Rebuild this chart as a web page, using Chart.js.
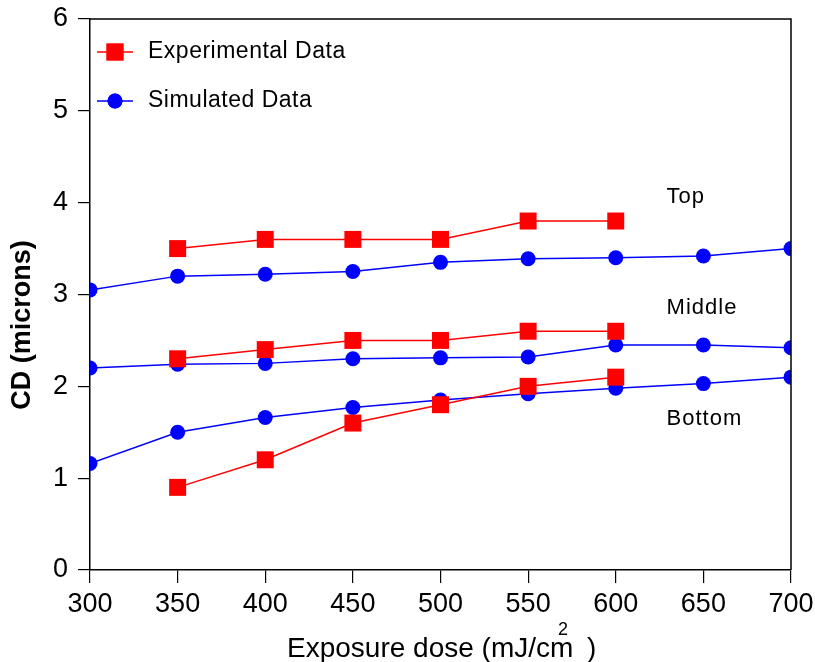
<!DOCTYPE html>
<html>
<head>
<meta charset="utf-8">
<script src="https://cdn.jsdelivr.net/npm/chart.js@4.4.1/dist/chart.umd.min.js"></script>
<style>
  html, body { margin: 0; padding: 0; background: #fff; }
  #wrap { width: 815px; height: 662px; position: relative; }
</style>
</head>
<body>
<div id="wrap"><canvas id="chart"></canvas></div>
<script>
// ---- data ----
const doses = [300, 350, 400, 450, 500, 550, 600, 650, 700];

// experimental data (no points at 300, 650, 700)
const expTop    = [null, 3.5, 3.6, 3.6, 3.6, 3.8, 3.8, null, null];
const expMiddle = [null, 2.3, 2.4, 2.5, 2.5, 2.6, 2.6, null, null];
const expBottom = [null, 0.9, 1.2, 1.6, 1.8, 2.0, 2.1, null, null];

// simulated data
const simTop    = [3.05, 3.2, 3.22, 3.25, 3.35, 3.39, 3.4, 3.42, 3.5];
const simMiddle = [2.2, 2.24, 2.25, 2.3, 2.31, 2.32, 2.45, 2.45, 2.42];
const simBottom = [1.16, 1.5, 1.66, 1.77, 1.85, 1.92, 1.98, 2.03, 2.1];

const yTicks = [0, 1, 2, 3, 4, 5, 6];

// region labels placed in data units
const regionNames = ['Top', 'Middle', 'Bottom'];
const regionX = [629, 629, 629];
const regionY = [4.06, 2.85, 1.64];

const legendNames = ['Experimental Data', 'Simulated Data'];

const RED = '#ff0000';
const BLUE = '#0000ff';
const FONT = '"Liberation Sans", Arial, sans-serif';

function toPoints(vals) {
  return doses.map((d, i) => ({ x: d, y: vals[i] })).filter(p => p.y !== null);
}

function expSet(vals) {
  return {
    data: toPoints(vals),
    borderColor: RED,
    backgroundColor: RED,
    borderWidth: 1.5,
    pointStyle: 'rect',
    pointRadius: 12,
    pointBorderWidth: 0,
    tension: 0
  };
}

function simSet(vals) {
  return {
    data: toPoints(vals),
    borderColor: BLUE,
    backgroundColor: BLUE,
    borderWidth: 1.5,
    pointStyle: 'circle',
    pointRadius: 7.5,
    pointBorderWidth: 0,
    tension: 0
  };
}

// frame, legend, region labels and axis titles
const decorPlugin = {
  id: 'decor',
  afterDraw(chart) {
    const { ctx, chartArea, scales } = chart;
    const { left, right, top, bottom } = chartArea;
    ctx.save();

    // top and right edges of the box
    ctx.strokeStyle = '#000';
    ctx.lineWidth = 1.5;
    ctx.beginPath();
    ctx.moveTo(left, top);
    ctx.lineTo(right, top);
    ctx.lineTo(right, bottom);
    ctx.stroke();

    // legend
    const styles = [
      { color: RED, style: 'rect', r: 12 },
      { color: BLUE, style: 'circle', r: 7.5 }
    ];
    ctx.letterSpacing = '0.5px';
    ctx.font = '23px ' + FONT;
    ctx.textBaseline = 'middle';
    ctx.textAlign = 'left';
    legendNames.forEach((name, i) => {
      const y = top + 33 + i * 49;
      const x0 = left + 7;
      ctx.strokeStyle = styles[i].color;
      ctx.lineWidth = 1.5;
      ctx.beginPath();
      ctx.moveTo(x0, y);
      ctx.lineTo(x0 + 36, y);
      ctx.stroke();
      ctx.fillStyle = styles[i].color;
      Chart.helpers.drawPoint(ctx, { pointStyle: styles[i].style, radius: styles[i].r, borderWidth: 0 }, x0 + 18, y);
      ctx.fill();
      ctx.fillStyle = '#000';
      ctx.fillText(name, x0 + 51, y);
    });

    // region labels
    ctx.letterSpacing = '1px';
    ctx.font = '22px ' + FONT;
    ctx.fillStyle = '#000';
    regionNames.forEach((name, i) => {
      ctx.fillText(name, scales.x.getPixelForValue(regionX[i]), scales.y.getPixelForValue(regionY[i]));
    });
    ctx.letterSpacing = '0px';

    // y axis title
    ctx.save();
    ctx.translate(23, 325);
    ctx.rotate(-Math.PI / 2);
    ctx.textAlign = 'center';
    ctx.font = 'bold 27px ' + FONT;
    ctx.fillText('CD (microns)', 0, 0);
    ctx.restore();

    // x axis title with superscript
    ctx.font = '28px ' + FONT;
    ctx.textBaseline = 'alphabetic';
    ctx.textAlign = 'left';
    ctx.fillText('Exposure dose (mJ/cm', 287, 657);
    ctx.font = '18px ' + FONT;
    ctx.fillText('2', 558, 635);
    ctx.font = '28px ' + FONT;
    ctx.fillText(')', 587, 657);

    ctx.restore();
  }
};

const ctx = document.getElementById('chart');
new Chart(ctx, {
  type: 'line',
  data: {
    datasets: [
      expSet(expTop), simSet(simTop),
      expSet(expMiddle), simSet(simMiddle),
      expSet(expBottom), simSet(simBottom)
    ]
  },
  options: {
    responsive: true,
    maintainAspectRatio: false,
    animation: false,
    layout: { padding: { left: 0, right: 24, top: 19, bottom: 0 } },
    plugins: {
      legend: { display: false },
      tooltip: { enabled: false }
    },
    scales: {
      x: {
        type: 'linear',
        min: 300,
        max: 700,
        afterFit: s => { s.height = 92; s.paddingLeft = 0; s.paddingRight = 0; },
        afterBuildTicks: s => { s.ticks = doses.map(v => ({ value: v })); },
        border: { color: '#000', width: 1.5 },
        grid: { drawOnChartArea: false, drawTicks: true, tickLength: 13, color: '#000', lineWidth: 1.2 },
        ticks: {
          color: '#000',
          padding: 5,
          font: { family: FONT, size: 27 }
        }
      },
      y: {
        min: 0,
        max: 6,
        afterFit: s => { s.width = 90; s.paddingTop = 0; s.paddingBottom = 0; },
        afterBuildTicks: s => { s.ticks = yTicks.map(v => ({ value: v })); },
        border: { color: '#000', width: 1.5 },
        grid: { drawOnChartArea: false, drawTicks: true, tickLength: 12, color: '#000', lineWidth: 1.2 },
        ticks: {
          color: '#000',
          padding: 10,
          font: { family: FONT, size: 27 }
        }
      }
    }
  },
  plugins: [decorPlugin]
});
</script>
</body>
</html>
